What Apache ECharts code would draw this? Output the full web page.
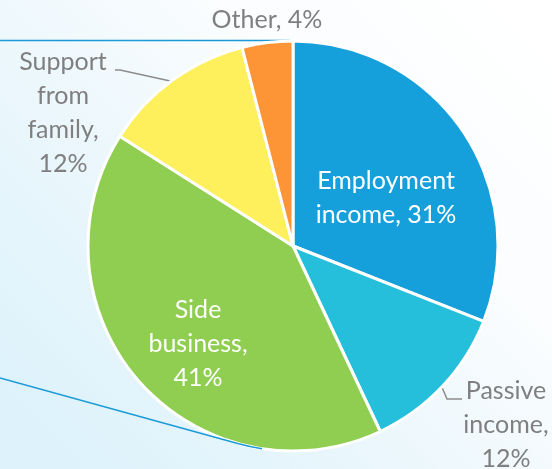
<!DOCTYPE html>
<html>
<head>
<meta charset="utf-8">
<script src="https://cdn.jsdelivr.net/npm/echarts@6/dist/echarts.min.js"></script>
<style>
  html, body { margin: 0; padding: 0; }
  #chart { width: 552px; height: 469px; }
</style>
</head>
<body>
<div id="chart"></div>
<script>
// Income sources, share of total (%)
const categories = ['Employment income', 'Passive income', 'Side business', 'Support from family', 'Other'];
const shares = [31, 12, 41, 12, 4];
// How each label is broken into lines before the percentage
const labelNames = ['Employment\nincome', 'Passive\nincome', 'Side\nbusiness', 'Support\nfrom\nfamily', 'Other'];
const labelSeparators = [', ', ',\n', ',\n', ',\n', ', '];
const sliceColors = ['#15a0db', '#25bfdc', '#8fce50', '#fef05c', '#fd9537'];

// Layout
const CX = 293, CY = 246, R = 205;
const insideLabel = [true, false, true, false, false];
// label block centres, relative to the pie centre
const labelAnchor = [[93, -48], [213, 179], [-95, 98], [-230, -133], [-26, -226]];
const FONT = 'Lato';

const chart = echarts.init(document.getElementById('chart'), null, { renderer: 'canvas' });

// angle (clockwise from 12 o'clock, degrees) of the middle of slice i
function midAngle(i) {
  const total = shares.reduce((a, b) => a + b, 0);
  let before = 0;
  for (let k = 0; k < i; k++) before += shares[k];
  return (before + shares[i] / 2) / total * 360;
}
function onCircle(deg, rad) {
  const a = deg * Math.PI / 180;
  return [CX + rad * Math.sin(a), CY - rad * Math.cos(a)];
}

const data = categories.map((name, i) => ({
  name,
  value: shares[i],
  itemStyle: { color: sliceColors[i] },
  label: {
    position: insideLabel[i] ? 'inside' : 'outside',
    color: insideLabel[i] ? '#ffffff' : '#7f7f7f',
    formatter: () => labelNames[i] + labelSeparators[i] + shares[i] + '%'
  },
  labelLine: { show: !insideLabel[i] && name !== 'Other' }
}));

// lower connector: from the left edge, tangent to the pie, then hugging its rim
const lowerStart = [0, 378];
const dx = lowerStart[0] - CX, dy = lowerStart[1] - CY;
const dist = Math.sqrt(dx * dx + dy * dy);
const tanAngle = Math.atan2(dy, dx) - Math.acos(R / dist);     // screen angle of tangent point
const tanPoint = [CX + R * Math.cos(tanAngle), CY + R * Math.sin(tanAngle)];
const rimEnd = (188.7 - 90) * Math.PI / 180;                    // where the connector stops

chart.setOption({
  backgroundColor: {
    type: 'linear', x: 1, y: 0, x2: 0.15, y2: 1,
    colorStops: [
      { offset: 0, color: '#ffffff' },
      { offset: 0.35, color: '#fbfdfe' },
      { offset: 0.7, color: '#e9f6fc' },
      { offset: 1, color: '#ddf2fb' }
    ]
  },
  animation: false,
  graphic: [
    {
      type: 'line', z: 0,
      shape: { x1: 0, y1: CY - R - 0.5, x2: CX - 3, y2: CY - R - 0.5 },
      style: { stroke: '#1a9ad6', lineWidth: 1.5 }
    },
    {
      type: 'line', z: 100,
      shape: { x1: lowerStart[0], y1: lowerStart[1], x2: tanPoint[0], y2: tanPoint[1] },
      style: { stroke: '#1a9ad6', lineWidth: 1.5 }
    },
    {
      type: 'arc', z: 100,
      shape: { cx: CX, cy: CY, r: R, startAngle: rimEnd, endAngle: tanAngle, clockwise: true },
      style: { stroke: '#1a9ad6', lineWidth: 1.5, fill: null }
    }
  ],
  series: [{
    type: 'pie',
    z: 5,
    center: [CX, CY],
    radius: R,
    startAngle: 90,
    clockwise: true,
    avoidLabelOverlap: false,
    itemStyle: { borderColor: '#ffffff', borderWidth: 3 },
    label: {
      fontFamily: FONT,
      fontSize: 25,
      lineHeight: 34,
      align: 'center'
    },
    labelLine: {
      lineStyle: { color: '#8c8c8c', width: 1.5 }
    },
    labelLayout: (params) => {
      const i = params.dataIndex;
      const x = CX + labelAnchor[i][0];
      const y = CY + labelAnchor[i][1];
      const out = { x, y, align: 'center', verticalAlign: 'middle' };
      if (!insideLabel[i]) {
        const start = onCircle(midAngle(i), R - 2);
        if (i === 3) {
          // leader runs to the end of the first text line
          const tx = x + 52, ty = y - 43;
          out.labelLinePoints = [start, [tx + 5, ty], [tx, ty]];
        } else if (i === 1) {
          const tx = x - 44, ty = y - 26;
          out.labelLinePoints = [start, [tx - 15, ty], [tx, ty]];
        }
      }
      return out;
    },
    data
  }]
});
</script>
</body>
</html>
